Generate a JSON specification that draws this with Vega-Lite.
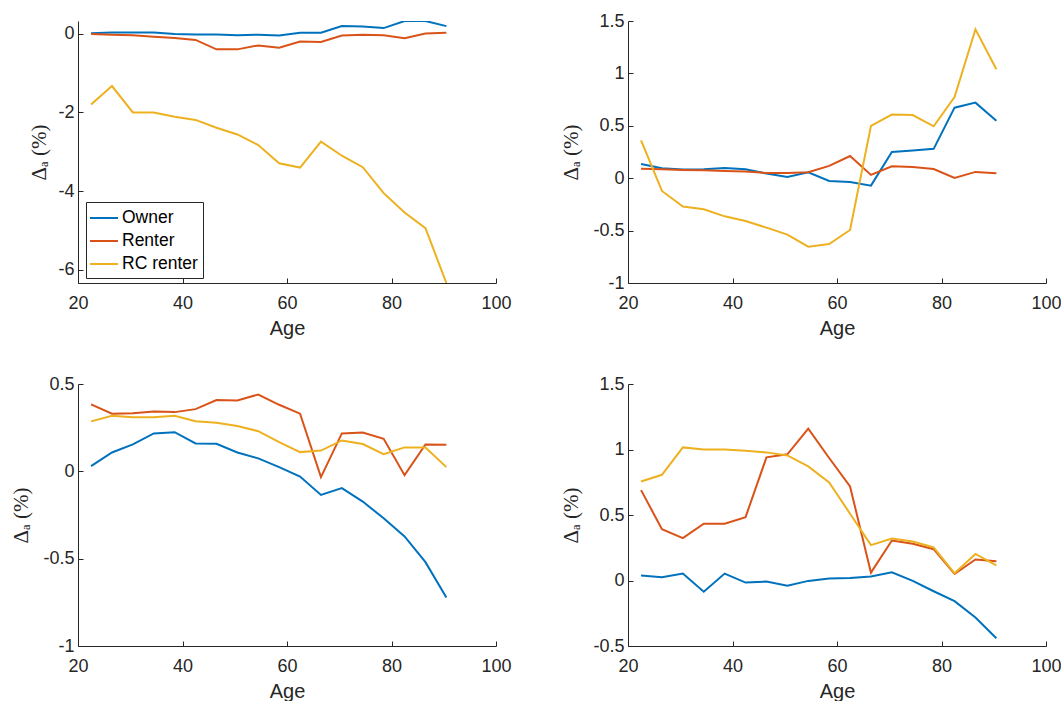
{
  "$schema": "https://vega.github.io/schema/vega-lite/v6.json",
  "padding": {"left": 10, "top": 12, "right": 0, "bottom": 0},
  "background": "white",
  "config": {
    "view": {"stroke": null},
    "axis": {
      "grid": false, "domainColor": "#262626", "tickColor": "#262626", "labelColor": "#262626", "titleColor": "#262626",
      "domainWidth": 1, "tickWidth": 1, "tickSize": -5,
      "labelFont": "Liberation Sans", "labelFontSize": 18, "titleFont": "Liberation Sans", "titleFontSize": 20, "titleFontWeight": "normal",
      "labelFlush": false, "labelOverlap": false
    },
    "axisX": {"labelPadding": 16, "titlePadding": 6},
    "axisY": {"labelPadding": 9, "titlePadding": 11, "titleFont": "Liberation Serif", "titleFontSize": 21}
  },
  "data": {"values": [
    {"p":1,"g":"Owner","age":22.5,"v":0.01},{"p":1,"g":"Owner","age":26.5,"v":0.03},{"p":1,"g":"Owner","age":30.5,"v":0.03},{"p":1,"g":"Owner","age":34.5,"v":0.03},{"p":1,"g":"Owner","age":38.5,"v":-0.01},{"p":1,"g":"Owner","age":42.5,"v":-0.02},{"p":1,"g":"Owner","age":46.5,"v":-0.02},{"p":1,"g":"Owner","age":50.5,"v":-0.04},{"p":1,"g":"Owner","age":54.5,"v":-0.03},{"p":1,"g":"Owner","age":58.5,"v":-0.05},{"p":1,"g":"Owner","age":62.5,"v":0.02},{"p":1,"g":"Owner","age":66.5,"v":0.02},{"p":1,"g":"Owner","age":70.5,"v":0.19},{"p":1,"g":"Owner","age":74.5,"v":0.18},{"p":1,"g":"Owner","age":78.5,"v":0.14},{"p":1,"g":"Owner","age":82.5,"v":0.32},{"p":1,"g":"Owner","age":86.5,"v":0.32},{"p":1,"g":"Owner","age":90.5,"v":0.19},
    {"p":1,"g":"Renter","age":22.5,"v":-0.01},{"p":1,"g":"Renter","age":26.5,"v":-0.03},{"p":1,"g":"Renter","age":30.5,"v":-0.04},{"p":1,"g":"Renter","age":34.5,"v":-0.08},{"p":1,"g":"Renter","age":38.5,"v":-0.11},{"p":1,"g":"Renter","age":42.5,"v":-0.16},{"p":1,"g":"Renter","age":46.5,"v":-0.4},{"p":1,"g":"Renter","age":50.5,"v":-0.4},{"p":1,"g":"Renter","age":54.5,"v":-0.3},{"p":1,"g":"Renter","age":58.5,"v":-0.36},{"p":1,"g":"Renter","age":62.5,"v":-0.2},{"p":1,"g":"Renter","age":66.5,"v":-0.21},{"p":1,"g":"Renter","age":70.5,"v":-0.05},{"p":1,"g":"Renter","age":74.5,"v":-0.03},{"p":1,"g":"Renter","age":78.5,"v":-0.04},{"p":1,"g":"Renter","age":82.5,"v":-0.12},{"p":1,"g":"Renter","age":86.5,"v":0.0},{"p":1,"g":"Renter","age":90.5,"v":0.02},
    {"p":1,"g":"RC renter","age":22.5,"v":-1.8},{"p":1,"g":"RC renter","age":26.5,"v":-1.33},{"p":1,"g":"RC renter","age":30.5,"v":-2.0},{"p":1,"g":"RC renter","age":34.5,"v":-2.0},{"p":1,"g":"RC renter","age":38.5,"v":-2.11},{"p":1,"g":"RC renter","age":42.5,"v":-2.19},{"p":1,"g":"RC renter","age":46.5,"v":-2.39},{"p":1,"g":"RC renter","age":50.5,"v":-2.56},{"p":1,"g":"RC renter","age":54.5,"v":-2.83},{"p":1,"g":"RC renter","age":58.5,"v":-3.29},{"p":1,"g":"RC renter","age":62.5,"v":-3.4},{"p":1,"g":"RC renter","age":66.5,"v":-2.74},{"p":1,"g":"RC renter","age":70.5,"v":-3.1},{"p":1,"g":"RC renter","age":74.5,"v":-3.39},{"p":1,"g":"RC renter","age":78.5,"v":-4.05},{"p":1,"g":"RC renter","age":82.5,"v":-4.54},{"p":1,"g":"RC renter","age":86.5,"v":-4.94},{"p":1,"g":"RC renter","age":90.5,"v":-6.33},
    {"p":2,"g":"Owner","age":22.5,"v":0.136},{"p":2,"g":"Owner","age":26.5,"v":0.094},{"p":2,"g":"Owner","age":30.5,"v":0.082},{"p":2,"g":"Owner","age":34.5,"v":0.085},{"p":2,"g":"Owner","age":38.5,"v":0.098},{"p":2,"g":"Owner","age":42.5,"v":0.085},{"p":2,"g":"Owner","age":46.5,"v":0.044},{"p":2,"g":"Owner","age":50.5,"v":0.012},{"p":2,"g":"Owner","age":54.5,"v":0.056},{"p":2,"g":"Owner","age":58.5,"v":-0.026},{"p":2,"g":"Owner","age":62.5,"v":-0.036},{"p":2,"g":"Owner","age":66.5,"v":-0.071},{"p":2,"g":"Owner","age":70.5,"v":0.25},{"p":2,"g":"Owner","age":74.5,"v":0.265},{"p":2,"g":"Owner","age":78.5,"v":0.28},{"p":2,"g":"Owner","age":82.5,"v":0.673},{"p":2,"g":"Owner","age":86.5,"v":0.721},{"p":2,"g":"Owner","age":90.5,"v":0.549},
    {"p":2,"g":"Renter","age":22.5,"v":0.091},{"p":2,"g":"Renter","age":26.5,"v":0.085},{"p":2,"g":"Renter","age":30.5,"v":0.079},{"p":2,"g":"Renter","age":34.5,"v":0.076},{"p":2,"g":"Renter","age":38.5,"v":0.069},{"p":2,"g":"Renter","age":42.5,"v":0.063},{"p":2,"g":"Renter","age":46.5,"v":0.05},{"p":2,"g":"Renter","age":50.5,"v":0.05},{"p":2,"g":"Renter","age":54.5,"v":0.056},{"p":2,"g":"Renter","age":58.5,"v":0.117},{"p":2,"g":"Renter","age":62.5,"v":0.212},{"p":2,"g":"Renter","age":66.5,"v":0.031},{"p":2,"g":"Renter","age":70.5,"v":0.113},{"p":2,"g":"Renter","age":74.5,"v":0.107},{"p":2,"g":"Renter","age":78.5,"v":0.088},{"p":2,"g":"Renter","age":82.5,"v":0.002},{"p":2,"g":"Renter","age":86.5,"v":0.06},{"p":2,"g":"Renter","age":90.5,"v":0.047},
    {"p":2,"g":"RC renter","age":22.5,"v":0.362},{"p":2,"g":"RC renter","age":26.5,"v":-0.122},{"p":2,"g":"RC renter","age":30.5,"v":-0.271},{"p":2,"g":"RC renter","age":34.5,"v":-0.297},{"p":2,"g":"RC renter","age":38.5,"v":-0.364},{"p":2,"g":"RC renter","age":42.5,"v":-0.408},{"p":2,"g":"RC renter","age":46.5,"v":-0.472},{"p":2,"g":"RC renter","age":50.5,"v":-0.538},{"p":2,"g":"RC renter","age":54.5,"v":-0.653},{"p":2,"g":"RC renter","age":58.5,"v":-0.628},{"p":2,"g":"RC renter","age":62.5,"v":-0.494},{"p":2,"g":"RC renter","age":66.5,"v":0.5},{"p":2,"g":"RC renter","age":70.5,"v":0.607},{"p":2,"g":"RC renter","age":74.5,"v":0.603},{"p":2,"g":"RC renter","age":78.5,"v":0.495},{"p":2,"g":"RC renter","age":82.5,"v":0.775},{"p":2,"g":"RC renter","age":86.5,"v":1.421},{"p":2,"g":"RC renter","age":90.5,"v":1.039},
    {"p":3,"g":"Owner","age":22.5,"v":0.03},{"p":3,"g":"Owner","age":26.5,"v":0.108},{"p":3,"g":"Owner","age":30.5,"v":0.154},{"p":3,"g":"Owner","age":34.5,"v":0.217},{"p":3,"g":"Owner","age":38.5,"v":0.224},{"p":3,"g":"Owner","age":42.5,"v":0.16},{"p":3,"g":"Owner","age":46.5,"v":0.158},{"p":3,"g":"Owner","age":50.5,"v":0.108},{"p":3,"g":"Owner","age":54.5,"v":0.074},{"p":3,"g":"Owner","age":58.5,"v":0.024},{"p":3,"g":"Owner","age":62.5,"v":-0.03},{"p":3,"g":"Owner","age":66.5,"v":-0.135},{"p":3,"g":"Owner","age":70.5,"v":-0.096},{"p":3,"g":"Owner","age":74.5,"v":-0.173},{"p":3,"g":"Owner","age":78.5,"v":-0.269},{"p":3,"g":"Owner","age":82.5,"v":-0.373},{"p":3,"g":"Owner","age":86.5,"v":-0.52},{"p":3,"g":"Owner","age":90.5,"v":-0.723},
    {"p":3,"g":"Renter","age":22.5,"v":0.383},{"p":3,"g":"Renter","age":26.5,"v":0.33},{"p":3,"g":"Renter","age":30.5,"v":0.333},{"p":3,"g":"Renter","age":34.5,"v":0.343},{"p":3,"g":"Renter","age":38.5,"v":0.339},{"p":3,"g":"Renter","age":42.5,"v":0.356},{"p":3,"g":"Renter","age":46.5,"v":0.408},{"p":3,"g":"Renter","age":50.5,"v":0.406},{"p":3,"g":"Renter","age":54.5,"v":0.44},{"p":3,"g":"Renter","age":58.5,"v":0.381},{"p":3,"g":"Renter","age":62.5,"v":0.33},{"p":3,"g":"Renter","age":66.5,"v":-0.033},{"p":3,"g":"Renter","age":70.5,"v":0.217},{"p":3,"g":"Renter","age":74.5,"v":0.222},{"p":3,"g":"Renter","age":78.5,"v":0.186},{"p":3,"g":"Renter","age":82.5,"v":-0.022},{"p":3,"g":"Renter","age":86.5,"v":0.154},{"p":3,"g":"Renter","age":90.5,"v":0.152},
    {"p":3,"g":"RC renter","age":22.5,"v":0.286},{"p":3,"g":"RC renter","age":26.5,"v":0.318},{"p":3,"g":"RC renter","age":30.5,"v":0.31},{"p":3,"g":"RC renter","age":34.5,"v":0.31},{"p":3,"g":"RC renter","age":38.5,"v":0.318},{"p":3,"g":"RC renter","age":42.5,"v":0.287},{"p":3,"g":"RC renter","age":46.5,"v":0.278},{"p":3,"g":"RC renter","age":50.5,"v":0.259},{"p":3,"g":"RC renter","age":54.5,"v":0.23},{"p":3,"g":"RC renter","age":58.5,"v":0.167},{"p":3,"g":"RC renter","age":62.5,"v":0.11},{"p":3,"g":"RC renter","age":66.5,"v":0.119},{"p":3,"g":"RC renter","age":70.5,"v":0.177},{"p":3,"g":"RC renter","age":74.5,"v":0.156},{"p":3,"g":"RC renter","age":78.5,"v":0.098},{"p":3,"g":"RC renter","age":82.5,"v":0.137},{"p":3,"g":"RC renter","age":86.5,"v":0.137},{"p":3,"g":"RC renter","age":90.5,"v":0.024},
    {"p":4,"g":"Owner","age":22.5,"v":0.038},{"p":4,"g":"Owner","age":26.5,"v":0.025},{"p":4,"g":"Owner","age":30.5,"v":0.053},{"p":4,"g":"Owner","age":34.5,"v":-0.085},{"p":4,"g":"Owner","age":38.5,"v":0.053},{"p":4,"g":"Owner","age":42.5,"v":-0.016},{"p":4,"g":"Owner","age":46.5,"v":-0.008},{"p":4,"g":"Owner","age":50.5,"v":-0.039},{"p":4,"g":"Owner","age":54.5,"v":-0.003},{"p":4,"g":"Owner","age":58.5,"v":0.015},{"p":4,"g":"Owner","age":62.5,"v":0.02},{"p":4,"g":"Owner","age":66.5,"v":0.03},{"p":4,"g":"Owner","age":70.5,"v":0.063},{"p":4,"g":"Owner","age":74.5,"v":-0.003},{"p":4,"g":"Owner","age":78.5,"v":-0.082},{"p":4,"g":"Owner","age":82.5,"v":-0.158},{"p":4,"g":"Owner","age":86.5,"v":-0.283},{"p":4,"g":"Owner","age":90.5,"v":-0.441},
    {"p":4,"g":"Renter","age":22.5,"v":0.69},{"p":4,"g":"Renter","age":26.5,"v":0.391},{"p":4,"g":"Renter","age":30.5,"v":0.323},{"p":4,"g":"Renter","age":34.5,"v":0.433},{"p":4,"g":"Renter","age":38.5,"v":0.433},{"p":4,"g":"Renter","age":42.5,"v":0.484},{"p":4,"g":"Renter","age":46.5,"v":0.94},{"p":4,"g":"Renter","age":50.5,"v":0.963},{"p":4,"g":"Renter","age":54.5,"v":1.159},{"p":4,"g":"Renter","age":58.5,"v":0.935},{"p":4,"g":"Renter","age":62.5,"v":0.718},{"p":4,"g":"Renter","age":66.5,"v":0.06},{"p":4,"g":"Renter","age":70.5,"v":0.305},{"p":4,"g":"Renter","age":74.5,"v":0.28},{"p":4,"g":"Renter","age":78.5,"v":0.239},{"p":4,"g":"Renter","age":82.5,"v":0.05},{"p":4,"g":"Renter","age":86.5,"v":0.16},{"p":4,"g":"Renter","age":90.5,"v":0.147},
    {"p":4,"g":"RC renter","age":22.5,"v":0.756},{"p":4,"g":"RC renter","age":26.5,"v":0.807},{"p":4,"g":"RC renter","age":30.5,"v":1.016},{"p":4,"g":"RC renter","age":34.5,"v":1.0},{"p":4,"g":"RC renter","age":38.5,"v":1.0},{"p":4,"g":"RC renter","age":42.5,"v":0.99},{"p":4,"g":"RC renter","age":46.5,"v":0.978},{"p":4,"g":"RC renter","age":50.5,"v":0.955},{"p":4,"g":"RC renter","age":54.5,"v":0.871},{"p":4,"g":"RC renter","age":58.5,"v":0.749},{"p":4,"g":"RC renter","age":62.5,"v":0.51},{"p":4,"g":"RC renter","age":66.5,"v":0.27},{"p":4,"g":"RC renter","age":70.5,"v":0.321},{"p":4,"g":"RC renter","age":74.5,"v":0.298},{"p":4,"g":"RC renter","age":78.5,"v":0.252},{"p":4,"g":"RC renter","age":82.5,"v":0.055},{"p":4,"g":"RC renter","age":86.5,"v":0.203},{"p":4,"g":"RC renter","age":90.5,"v":0.116}
  ]},
  "columns": 2,
  "spacing": {"row": 101, "column": 132},
  "bounds": "flush",
  "resolve": {"legend": {"color": "independent"}},
  "concat": [
    {
      "width": 418, "height": 262,
      "transform": [{"filter": "datum.p == 1"}],
      "mark": {"type": "line", "strokeWidth": 2, "clip": true},
      "encoding": {
        "x": {"field": "age", "type": "quantitative", "scale": {"domain": [20, 100]}, "axis": {"values": [20, 40, 60, 80, 100], "title": "Age", "labelExpr": "datum.value + ''"}},
        "y": {"field": "v", "type": "quantitative", "scale": {"domain": [-6.33, 0.32]}, "axis": {"values": [-6, -4, -2, 0], "title": "Δₐ (%)", "titlePadding": 8, "labelExpr": "datum.value + ''"}},
        "color": {"field": "g", "type": "nominal", "scale": {"domain": ["Owner", "Renter", "RC renter"], "range": ["#0072BD", "#D95319", "#EDB120"]},
          "legend": {"orient": "none", "legendX": 8, "legendY": 181, "title": null, "symbolType": "M-1.4,0L1.4,0", "symbolSize": 400, "symbolStrokeWidth": 2, "symbolOffset": 2,
            "labelFont": "Liberation Sans", "labelFontSize": 17.5, "labelColor": "#000000", "labelOffset": 7, "rowPadding": 3, "padding": 5,
            "strokeColor": "#262626", "fillColor": "white"}}
      }
    },
    {
      "width": 418, "height": 262,
      "transform": [{"filter": "datum.p == 2"}],
      "mark": {"type": "line", "strokeWidth": 2, "clip": true},
      "encoding": {
        "x": {"field": "age", "type": "quantitative", "scale": {"domain": [20, 100]}, "axis": {"values": [20, 40, 60, 80, 100], "title": "Age", "labelExpr": "datum.value + ''"}},
        "y": {"field": "v", "type": "quantitative", "scale": {"domain": [-1, 1.5]}, "axis": {"values": [-1, -0.5, 0, 0.5, 1, 1.5], "title": "Δₐ (%)", "labelExpr": "datum.value + ''"}},
        "color": {"field": "g", "type": "nominal", "legend": null}
      }
    },
    {
      "width": 418, "height": 262,
      "transform": [{"filter": "datum.p == 3"}],
      "mark": {"type": "line", "strokeWidth": 2, "clip": true},
      "encoding": {
        "x": {"field": "age", "type": "quantitative", "scale": {"domain": [20, 100]}, "axis": {"values": [20, 40, 60, 80, 100], "title": "Age", "labelExpr": "datum.value + ''"}},
        "y": {"field": "v", "type": "quantitative", "scale": {"domain": [-1, 0.5]}, "axis": {"values": [-1, -0.5, 0, 0.5], "title": "Δₐ (%)", "labelExpr": "datum.value + ''"}},
        "color": {"field": "g", "type": "nominal", "legend": null}
      }
    },
    {
      "width": 418, "height": 262,
      "transform": [{"filter": "datum.p == 4"}],
      "mark": {"type": "line", "strokeWidth": 2, "clip": true},
      "encoding": {
        "x": {"field": "age", "type": "quantitative", "scale": {"domain": [20, 100]}, "axis": {"values": [20, 40, 60, 80, 100], "title": "Age", "labelExpr": "datum.value + ''"}},
        "y": {"field": "v", "type": "quantitative", "scale": {"domain": [-0.5, 1.5]}, "axis": {"values": [-0.5, 0, 0.5, 1, 1.5], "title": "Δₐ (%)", "labelExpr": "datum.value + ''"}},
        "color": {"field": "g", "type": "nominal", "legend": null}
      }
    }
  ]
}
